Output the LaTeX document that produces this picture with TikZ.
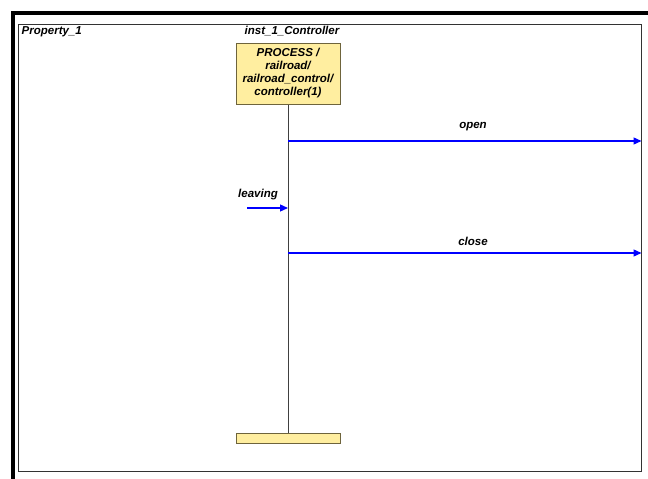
\documentclass[tikz,border=0pt]{standalone}
\usepackage{fontspec}
\setmainfont{Liberation Sans}
\usetikzlibrary{arrows.meta}

\definecolor{boxfill}{RGB}{255,238,160}
\definecolor{boxline}{RGB}{110,100,60}
\definecolor{msgblue}{RGB}{0,0,255}

\tikzset{
  lbl/.style={font=\fontsize{11.5}{13}\selectfont\bfseries\itshape},
  procbox/.style={draw=boxline, fill=boxfill, line width=1pt, lbl, align=center},
  barbox/.style={draw=boxline, fill=boxfill, line width=1pt},
  lifeline/.style={draw=black!75, line width=1pt},
  msg/.style={color=msgblue, line width=1.3pt, -{Triangle[length=8pt,width=7pt]}}
}

\begin{document}
\begin{tikzpicture}[x=1pt,y=-1pt,every node/.style={inner sep=1.5pt}]
  \useasboundingbox (0,0) rectangle (648,479);

  % frames
  \draw[line width=3.5pt] (13,479) -- (13,13) -- (648,13);
  \draw[draw=black!80, line width=1pt] (18,24) rectangle (641.5,471.5);

  \node[lbl, anchor=north west] (prop) at (20,24.5) {Property\_1};
  \node[lbl] (inst) at (292,31) {inst\_1\_Controller};

  \node[procbox, minimum width=104, minimum height=61] (proc) at (288,73.5)
    {PROCESS /\\ railroad/\\ railroad\_control/\\ controller(1)};
  \node[barbox, minimum width=104, minimum height=10] (endbar) at (288,438) {};

  \draw[lifeline] (proc) -- (endbar);

  % messages
  \coordinate (l1) at (288,141);
  \coordinate (r1) at (641.5,141);
  \coordinate (l2) at (247,208);
  \coordinate (r2) at (288,208);
  \coordinate (l3) at (288,253);
  \coordinate (r3) at (641.5,253);

  \draw[msg] (l1) -- (r1);
  \draw[msg] (l2) -- (r2);
  \draw[msg] (l3) -- (r3);

  \node[lbl] (open) at (473,127) {open};
  \node[lbl] (leaving) at (258,195) {leaving};
  \node[lbl] (close) at (473,241) {close};
\end{tikzpicture}
\end{document}
